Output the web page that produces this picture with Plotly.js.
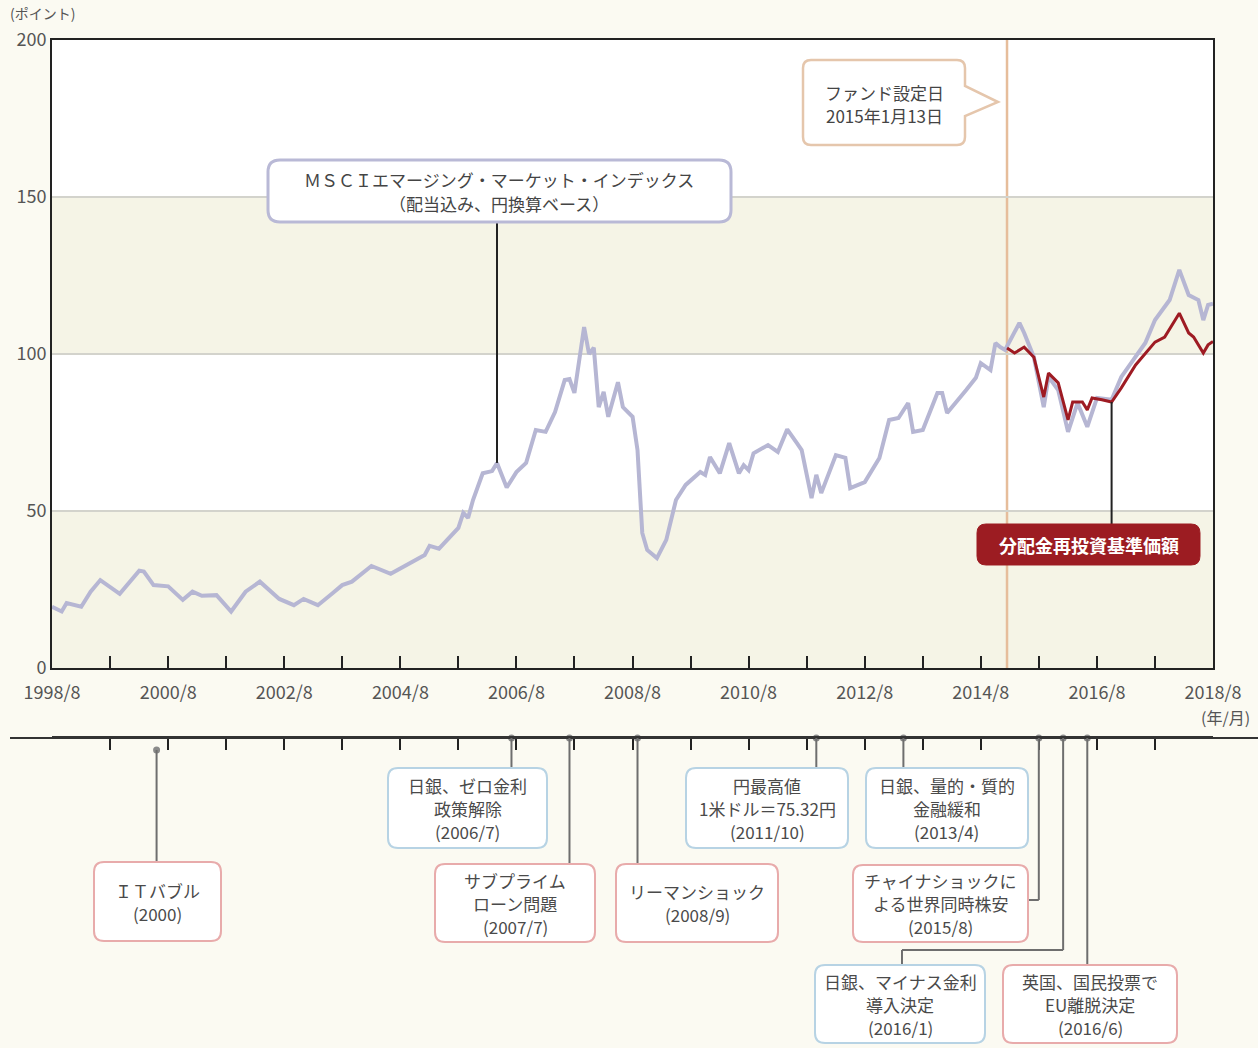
<!DOCTYPE html>
<html><head><meta charset="utf-8">
<script src="https://cdn.plot.ly/plotly-3.0.1.min.js"></script>
<style>html,body{margin:0;padding:0;background:#fbfaf2;}#chart{width:1258px;height:1048px;}</style>
</head><body><div id="chart"></div>
<script>
// ---------- DATA ----------
const msciDates = ['1998-08-01','1998-10-01','1998-11-01','1999-02-01','1999-04-01','1999-06-01','1999-10-01','2000-02-01','2000-03-01','2000-05-01','2000-08-01','2000-11-01','2001-01-01','2001-03-01','2001-06-01','2001-09-01','2001-12-01','2002-03-01','2002-07-01','2002-10-01','2002-12-01','2003-03-01','2003-06-01','2003-08-01','2003-10-01','2004-02-01','2004-06-01','2004-09-01','2005-01-01','2005-02-01','2005-04-01','2005-08-01','2005-09-01','2005-10-01','2005-11-01','2006-01-01','2006-03-01','2006-04-01','2006-06-01','2006-08-01','2006-10-01','2006-12-01','2007-02-01','2007-04-01','2007-06-01','2007-07-01','2007-08-01','2007-10-01','2007-11-01','2007-12-01','2008-01-01','2008-02-01','2008-03-01','2008-05-01','2008-06-01','2008-08-01','2008-09-01','2008-10-01','2008-11-01','2009-01-01','2009-03-01','2009-05-01','2009-07-01','2009-10-01','2009-11-01','2009-12-01','2010-02-01','2010-04-01','2010-06-01','2010-07-01','2010-08-01','2010-09-01','2010-12-01','2011-02-01','2011-04-01','2011-06-01','2011-07-01','2011-09-01','2011-10-01','2011-11-01','2012-02-01','2012-04-01','2012-05-01','2012-08-01','2012-11-01','2013-01-01','2013-03-01','2013-05-01','2013-06-01','2013-08-01','2013-11-01','2013-12-01','2014-01-01','2014-05-01','2014-07-01','2014-08-01','2014-10-01','2014-11-01','2014-12-01','2015-01-01','2015-04-01','2015-05-01','2015-07-01','2015-09-01','2015-10-01','2015-12-01','2016-02-01','2016-04-01','2016-06-01','2016-08-01','2016-11-01','2017-01-01','2017-06-01','2017-08-01','2017-11-01','2018-01-01','2018-03-01','2018-05-01','2018-06-01','2018-07-01','2018-08-01'];
const msciValues = [19.5,18,20.7,19.5,24.3,28,23.6,31,30.7,26.4,26,21.7,24.3,23,23.2,18,24.3,27.5,22,20,22,20,23.8,26.4,27.5,32.5,30,32.5,36,38.9,38,44.6,49.4,47.8,53.5,62,62.7,65.3,57.5,62.4,65.3,75.8,75.2,81.5,91.7,92,87.6,108.6,100,102,83.1,87.9,80,91,83.1,80,69.4,43,37.6,35,40.8,53.5,58.3,62.4,61.5,67.2,62,71.6,62,64.6,63,68.4,71,68.8,76,71.6,69.4,54.1,61.5,55.7,67.8,66.9,57.3,59.2,66.9,79,79.6,84.4,75.2,75.8,87.6,87.6,81.2,88.5,92.4,97.1,94.9,103.5,102.2,101.3,109.9,106.7,99,83.1,92.7,88.5,75.2,84.4,76.8,86,85.4,92.7,103.5,110.8,117.2,126.8,118.8,117.2,110.8,115.6,116];

const fundDates = ['2015-01-13','2015-03-01','2015-05-01','2015-07-01','2015-09-01','2015-10-01','2015-12-01','2016-02-01','2016-03-01','2016-05-01','2016-06-01','2016-07-01','2016-09-01','2016-11-01','2017-01-01','2017-04-01','2017-08-01','2017-10-01','2018-01-01','2018-03-01','2018-04-01','2018-06-01','2018-07-01','2018-08-01'];
const fundValues = [101.9,100.3,102.2,99,86.3,93.9,90.8,79,84.7,84.7,82.2,86,85.4,84.7,89.2,96.5,103.8,105.4,113,106.7,105.4,100.3,102.9,104];

const yearTickVals = [];
const yearTickText = [];
for (let y = 1998; y <= 2018; y++) {
  yearTickVals.push(y + '-08-01');
  yearTickText.push(y % 2 === 0 ? y + '/8' : '');
}
const xUnitLabel = '(年/月)';
const yUnitLabel = '(ポイント)';
const yTickVals = [0, 50, 100, 150, 200];

const fundStartDate = '2015-01-13';
const msciLabel = ['ＭＳＣＩエマージング・マーケット・インデックス', '（配当込み、円換算ベース）'];
const fundLabel = ['分配金再投資基準価額'];
const fundStartLabel = ['ファンド設定日', '2015年1月13日'];
const msciPointedDate = '2006-04-01';
const fundPointedDate = '2016-11-01';

const eventDates = ['2000-05-20','2006-07-01','2007-07-01','2008-09-01','2011-10-01','2013-04-01','2015-08-01','2016-01-01','2016-06-01'];
const eventTexts = [
  ['ＩＴバブル','(2000)'],
  ['日銀、ゼロ金利','政策解除','(2006/7)'],
  ['サブプライム','ローン問題','(2007/7)'],
  ['リーマンショック','(2008/9)'],
  ['円最高値','1米ドル＝75.32円','(2011/10)'],
  ['日銀、量的・質的','金融緩和','(2013/4)'],
  ['チャイナショックに','よる世界同時株安','(2015/8)'],
  ['日銀、マイナス金利','導入決定','(2016/1)'],
  ['英国、国民投票で','EU離脱決定','(2016/6)']
];
const eventKinds = ['crisis','japan','crisis','crisis','japan','japan','crisis','japan','crisis'];

// ---------- LAYOUT HELPERS (pixel -> paper) ----------
const ML = 52, MR = 45, MT = 40, MB = 0, W = 1258, H = 1048;
const PW = W - ML - MR, PH = H - MT - MB;
const px = x => (x - ML) / PW;
const py = y => (H - MB - y) / PH;
const P = (x, y) => px(x).toFixed(5) + ',' + py(y).toFixed(5);
function roundRect(x0, y0, x1, y1, r) {
  return `M ${P(x0 + r, y0)} L ${P(x1 - r, y0)} Q ${P(x1, y0)} ${P(x1, y0 + r)} L ${P(x1, y1 - r)} Q ${P(x1, y1)} ${P(x1 - r, y1)} L ${P(x0 + r, y1)} Q ${P(x0, y1)} ${P(x0, y1 - r)} L ${P(x0, y0 + r)} Q ${P(x0, y0)} ${P(x0 + r, y0)} Z`;
}
const t0 = Date.UTC(1998, 7, 1), t1 = Date.UTC(2018, 7, 1);
const pxDate = x => new Date(t0 + (x - ML) / PW * (t1 - t0)).toISOString().slice(0, 10);
const mainPlotBottom = 668, mainPlotTop = 40;
const yAtPx = y => (mainPlotBottom - y) / (mainPlotBottom - mainPlotTop) * 200;
const timelineY = 738;

const eventBoxes = [[94,862,221,941],[388,768,547,848],[435,864,595,942],[616,864,778,942],[686,768,848,848],[866,768,1028,848],[853,865,1028,942],[815,965,985,1043],[1003,965,1177,1043]];
const eventDotOffset = [-12,0,0,0,0,0,0,0,0];
const eventConnectors = [
  [[null,-12],[null,-124]],
  [[null,0],[null,-30]],
  [[null,0],[null,-126]],
  [[null,0],[null,-126]],
  [[null,0],[null,-30]],
  [[null,0],[null,-30]],
  [[null,0],[null,-162],[1028,-162]],
  [[null,0],[null,-212],[902,-212],[902,-227]],
  [[null,0],[null,-227]]
];

const shapes = [];
const annotations = [];
const xStart = yearTickVals[0], xEnd = yearTickVals[yearTickVals.length - 1];

function addLines(lines, cx, cy, size, color, spacing, bold) {
  const n = lines.length;
  lines.forEach((t, i) => {
    annotations.push({xref:'paper', yref:'paper', x:px(cx), y:py(cy + (i - (n - 1) / 2) * spacing),
      xanchor:'center', yanchor:'middle', showarrow:false, text: bold ? '<b>' + t + '</b>' : t,
      font:{size:size, color:color}});
  });
}

// white plot area + bands
shapes.push({type:'rect', xref:'x', yref:'y', x0:xStart, x1:xEnd, y0:0, y1:200, fillcolor:'#ffffff', line:{width:0}, layer:'below'});
[[0,50],[100,150]].forEach(b => shapes.push({type:'rect', xref:'x', yref:'y', x0:xStart, x1:xEnd, y0:b[0], y1:b[1], fillcolor:'#f5f4e6', line:{width:0}, layer:'below'}));
shapes.push({type:'line', xref:'x', yref:'y', x0:fundStartDate, x1:fundStartDate, y0:0, y1:200, line:{color:'#e6bd9b', width:2.5}, layer:'below'});

// timeline extended line
shapes.push({type:'line', xref:'paper', yref:'paper', x0:px(10), x1:px(1258), y0:py(timelineY), y1:py(timelineY), line:{color:'#333', width:2}});

eventConnectors.forEach((segs, i) => {
  for (let k = 0; k < segs.length - 1; k++) {
    const a = segs[k], b = segs[k + 1];
    shapes.push({type:'line', xref:'x2', yref:'y2',
      x0: a[0] === null ? eventDates[i] : pxDate(a[0]), y0: a[1],
      x1: b[0] === null ? eventDates[i] : pxDate(b[0]), y1: b[1],
      line:{color:'#6e6e6e', width:2}});
  }
});
eventBoxes.forEach((b, i) => {
  shapes.push({type:'path', xref:'paper', yref:'paper', path:roundRect(b[0], b[1], b[2], b[3], 10),
    fillcolor:'#ffffff', line:{color: eventKinds[i] === 'japan' ? '#b7d3e4' : '#e8abab', width:2}});
  addLines(eventTexts[i], (b[0] + b[2]) / 2, (b[1] + b[3]) / 2, 17, '#4a4a4a', 23, false);
});

const msciVal = msciValues[msciDates.indexOf(msciPointedDate)];
shapes.push({type:'line', xref:'x', yref:'y', x0:msciPointedDate, x1:msciPointedDate, y0:msciVal, y1:yAtPx(222), line:{color:'#222', width:2}});
shapes.push({type:'path', xref:'paper', yref:'paper', path:roundRect(268,160,731,222,12), fillcolor:'#ffffff', line:{color:'#b9b9d6', width:3}});
addLines(msciLabel, 499, 192, 17, '#444', 24, false);

const fundVal = fundValues[fundDates.indexOf(fundPointedDate)];
shapes.push({type:'line', xref:'x', yref:'y', x0:fundPointedDate, x1:fundPointedDate, y0:fundVal, y1:yAtPx(525), line:{color:'#222', width:2}});
shapes.push({type:'path', xref:'paper', yref:'paper', path:roundRect(977,524,1200,565,9), fillcolor:'#9c1c22', line:{color:'#9c1c22', width:1}});
addLines(fundLabel, 1088.5, 545, 18, '#ffffff', 23, true);

const r = 8;
const calloutPath = `M ${P(803 + r, 60)} L ${P(965 - r, 60)} Q ${P(965, 60)} ${P(965, 60 + r)} L ${P(965, 86)} L ${P(998, 102)} L ${P(965, 116)} L ${P(965, 145 - r)} Q ${P(965, 145)} ${P(965 - r, 145)} L ${P(803 + r, 145)} Q ${P(803, 145)} ${P(803, 145 - r)} L ${P(803, 60 + r)} Q ${P(803, 60)} ${P(803 + r, 60)} Z`;
shapes.push({type:'path', xref:'paper', yref:'paper', path:calloutPath, fillcolor:'#ffffff', line:{color:'#e5c6ac', width:2.5}});
addLines(fundStartLabel, 884, 104, 17, '#444', 23, false);

annotations.push({xref:'paper', yref:'paper', x:px(8), y:py(13), xanchor:'left', yanchor:'middle', text:yUnitLabel, showarrow:false, font:{size:14, color:'#555'}});
annotations.push({xref:'paper', yref:'paper', x:px(1252), y:py(717), xanchor:'right', yanchor:'middle', text:xUnitLabel, showarrow:false, font:{size:16, color:'#555'}});

const traces = [
  {type:'scatter', mode:'lines', x:msciDates, y:msciValues, xaxis:'x', yaxis:'y', line:{color:'#b6b6d3', width:4}, hoverinfo:'skip'},
  {type:'scatter', mode:'lines', x:fundDates, y:fundValues, xaxis:'x', yaxis:'y', line:{color:'#9e1b23', width:3}, hoverinfo:'skip'},
  {type:'scatter', mode:'markers', x:eventDates, y:eventDotOffset, xaxis:'x2', yaxis:'y2', marker:{color:'#8a8a8a', size:7}, cliponaxis:false, hoverinfo:'skip'}
];

const axisFont = {family:'"Noto Sans CJK JP", "Noto Sans", sans-serif', size:18, color:'#555'};
const layout = {
  width:W, height:H,
  margin:{l:ML, r:MR, t:MT, b:MB},
  paper_bgcolor:'#fbfaf2', plot_bgcolor:'rgba(0,0,0,0)',
  showlegend:false,
  font:{family:'"Noto Sans CJK JP", "Noto Sans", sans-serif', color:'#444', size:17},
  xaxis:{type:'date', anchor:'y', range:[xStart, xEnd], tickmode:'array', tickvals:yearTickVals, ticktext:yearTickText,
    ticks:'inside', ticklen:12, tickwidth:2, tickcolor:'#222', showline:true, linecolor:'#222', linewidth:2, mirror:true,
    showgrid:false, zeroline:false, tickfont:axisFont, ticklabelstandoff:7, fixedrange:true},
  yaxis:{domain:[py(mainPlotBottom), 1], anchor:'x', range:[0,200], tickmode:'array', tickvals:yTickVals, ticks:'',
    showgrid:true, gridcolor:'#d3d3cc', gridwidth:1.5, showline:true, linecolor:'#222', linewidth:2, mirror:true,
    zeroline:false, tickfont:axisFont, fixedrange:true},
  xaxis2:{type:'date', anchor:'y2', side:'top', range:[xStart, xEnd], tickmode:'array', tickvals:yearTickVals,
    showticklabels:false, ticks:'inside', ticklen:12, tickwidth:2, tickcolor:'#222', showline:true, linecolor:'#333', linewidth:2,
    showgrid:false, zeroline:false, fixedrange:true},
  yaxis2:{domain:[0, py(timelineY)], anchor:'x2', range:[-310, 0], visible:false, showgrid:false, zeroline:false, fixedrange:true},
  shapes:shapes,
  annotations:annotations
};

Plotly.newPlot('chart', traces, layout, {staticPlot:true, displayModeBar:false});
</script>
</body></html>
